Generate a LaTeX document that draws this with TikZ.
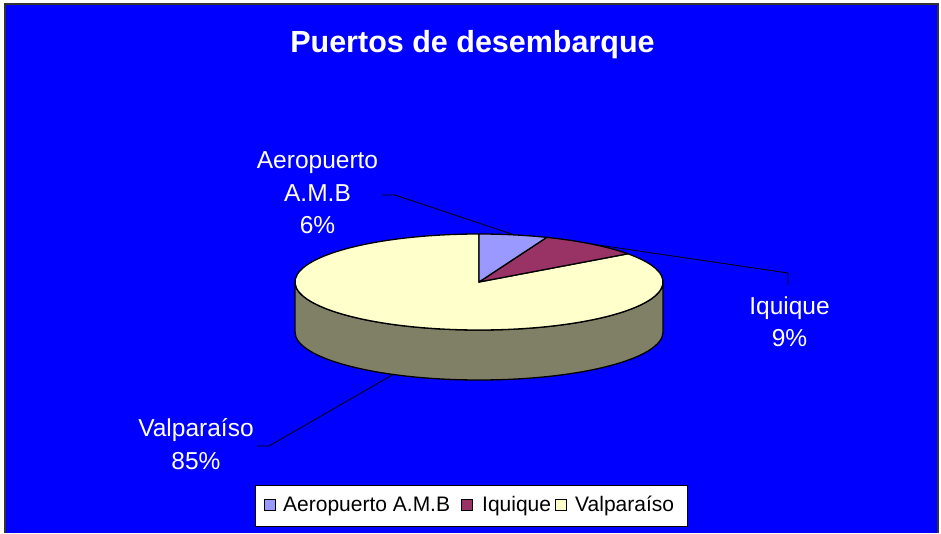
\documentclass[tikz,border=0pt]{standalone}
\usepackage{fontspec}
\setmainfont{Liberation Sans}
\definecolor{bgblue}{RGB}{0,0,255}
\definecolor{amb}{RGB}{153,153,255}
\definecolor{iqq}{RGB}{153,51,102}
\definecolor{valp}{RGB}{255,255,204}
\definecolor{valpside}{RGB}{128,128,102}
\tikzset{
  lbl/.style={text=white, align=center, inner sep=0pt, anchor=north, font=\fontsize{24.5}{32.5}\selectfont},
  leader/.style={black, line width=0.8pt},
  slice/.style={draw=black, line width=1.3pt, line join=round},
  legtext/.style={anchor=base west, inner sep=0pt, font=\fontsize{21}{24}\selectfont},
  legmark/.style={draw=black, line width=0.8pt, minimum size=11pt, inner sep=0pt}
}
\begin{document}
\begin{tikzpicture}[x=1pt, y=1pt]
			\useasboundingbox (0,0) rectangle (941,533);
			\fill[white] (0,0) rectangle (941,533);
			\fill[bgblue] (5,0) rectangle (938,529);
			\draw[gray!40!black, line width=1.5pt] (5,0) -- (5,529) -- (938,529) -- (938,0);
			\node[text=white, anchor=base, inner sep=0pt, font=\bfseries\fontsize{30.5}{34}\selectfont] (title) at (472.5,480.7) {Puertos de desembarque};
			% pie
			\coordinate (c) at (479,251);
			\filldraw[slice, fill=valpside] (295,251) -- (295,201) arc[start angle=180, end angle=360, x radius=184, y radius=48] -- (663,251) arc[start angle=0, end angle=-180, x radius=184, y radius=48] -- cycle;
			\filldraw[slice, fill=valp] (c) -- ++(36:184 and 48) arc[start angle=36, end angle=-270, x radius=184, y radius=48] -- cycle;
			\filldraw[slice, fill=iqq] (c) -- ++(36:184 and 48) arc[start angle=36, end angle=68.4, x radius=184, y radius=48] -- cycle;
			\filldraw[slice, fill=amb] (c) -- ++(68.4:184 and 48) arc[start angle=68.4, end angle=90, x radius=184, y radius=48] -- cycle;
			\path (c) ++(79:184 and 48) coordinate (ambrim);
			\path (c) ++(52.2:184 and 48) coordinate (iqqrim);
			\path (c) ++(0,-50) ++(242.2:184 and 48) coordinate (valprim);
			% labels
			\node[lbl] (ambl) at (317.5,381.5) {Aeropuerto\\A.M.B\\6\%};
			\node[lbl] (iqql) at (789.5,236.5) {Iquique\\9\%};
			\node[lbl] (valpl) at (196,114.7) {Valparaíso\\85\%};
			\coordinate (ambend) at (382,338);
			\coordinate (iqqend) at (788,248);
			\coordinate (valpend) at (257,87);
			\draw[leader] (ambend) -- ++(13,0) -- (ambrim);
			\draw[leader] (iqqend) -- ++(0,12) -- (iqqrim);
			\draw[leader] (valpend) -- ++(12,0) -- (valprim);
			% legend
			\draw[fill=white, line width=0.8pt] (255,7) rectangle (687,48);
			\node[legmark, fill=amb] (m1) at (270,28) {};
			\node[legtext] (t1) at (283,22) {Aeropuerto A.M.B};
			\node[legmark, fill=iqq] (m2) at (467,28) {};
			\node[legtext] (t2) at (482,22) {Iquique};
			\node[legmark, fill=valp] (m3) at (561,28) {};
			\node[legtext] (t3) at (575,22) {Valparaíso};
		\end{tikzpicture}
\end{document}
